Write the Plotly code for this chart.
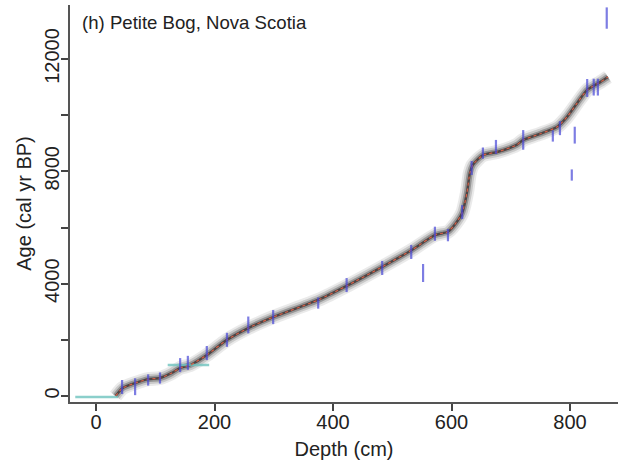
import plotly.graph_objects as go

# Age-depth model (mean) for Petite Bog
model_depth = [33, 45, 66, 88, 108, 128, 142, 159, 187, 221, 257, 299, 375, 423, 483,
               533, 572, 594, 606, 618, 626, 631, 636, 653, 677, 710, 721, 750, 778,
               795, 812, 829, 851, 864]
model_age = [0, 285, 460, 600, 640, 820, 1000, 1100, 1460, 2000, 2420, 2810, 3420, 3920,
             4600, 5200, 5730, 5850, 6120, 6520, 7230, 7940, 8230, 8580, 8690, 8940, 9120,
             9340, 9580, 9940, 10430, 10900, 11180, 11360]

# Calibrated radiocarbon dates (centre and half-range)
date_depth = [44, 66, 88, 108, 142, 155, 187, 221, 257, 299, 375, 423, 483, 532, 552,
              572, 594, 618, 634, 653, 675, 721, 771, 783, 803, 808, 829, 840, 847, 862]
date_age = [320, 330, 570, 640, 1100, 1180, 1530, 2000, 2530, 2810, 3310, 3950, 4560,
            5130, 4380, 5780, 5730, 6550, 8120, 8650, 8870, 9120, 9260, 9540, 7870, 9290,
            10970, 11000, 11000, 13460]
date_err = [250, 300, 200, 200, 250, 250, 250, 250, 300, 250, 200, 250, 250, 250, 320,
            250, 220, 250, 250, 200, 250, 350, 200, 250, 200, 300, 320, 300, 300, 380]

# Other age markers (surface and a horizon marker)
marker_depth = [[-35, 37], [121, 191]]
marker_age = [-40, 1100]

x_ticks = [0, 200, 400, 600, 800]
y_ticks = [0, 2000, 4000, 6000, 8000, 10000, 12000]
y_labels = ["0", "", "4000", "", "8000", "", "12000"]

fig = go.Figure()

# uncertainty envelope drawn as soft layered strokes
for w, c in [(14, "rgba(170,170,170,0.25)"), (10, "rgba(140,140,140,0.35)"),
             (6, "rgba(100,100,100,0.5)"), (2.5, "rgba(60,50,50,0.8)")]:
    fig.add_trace(go.Scatter(x=model_depth, y=model_age, mode="lines",
                             line=dict(color=c, width=w, shape="spline", smoothing=0.6),
                             hoverinfo="skip", showlegend=False))

for dd, aa in zip(marker_depth, marker_age):
    fig.add_trace(go.Scatter(x=dd, y=[aa, aa], mode="lines",
                             line=dict(color="rgba(110,195,190,0.8)", width=2.5),
                             showlegend=False))

fig.add_trace(go.Scatter(x=model_depth, y=model_age, mode="lines",
                         line=dict(color="rgb(215,95,70)", width=1.2, shape="spline",
                                   smoothing=0.6, dash="dot"),
                         showlegend=False))

fig.add_trace(go.Scatter(x=date_depth, y=date_age, mode="markers",
                         marker=dict(size=1, color="rgba(0,0,0,0)"),
                         error_y=dict(type="data", array=date_err, visible=True,
                                      width=0, thickness=2.2,
                                      color="rgba(70,70,215,0.7)"),
                         showlegend=False))

font = "Liberation Sans, Arial, Helvetica, sans-serif"

fig.add_annotation(text="(h) Petite Bog, Nova Scotia", xref="paper", yref="paper",
                   x=0.0, y=1.0, xshift=10, yshift=-5, xanchor="left", yanchor="top",
                   showarrow=False, font=dict(family=font, size=18.6, color="#222"))

fig.update_xaxes(range=[-43.9, 881], tickvals=x_ticks, ticks="outside", ticklen=7,
                 tickwidth=1.5, tickcolor="#444", showline=True, linecolor="#555",
                 linewidth=2, showgrid=False, zeroline=False, ticklabelstandoff=-6,
                 tickfont=dict(family=font, size=20, color="#222"),
                 title=dict(text="Depth (cm)", font=dict(family=font, size=20, color="#222"),
                            standoff=10))
fig.update_yaxes(range=[-214, 13925], tickvals=y_ticks, ticktext=y_labels,
                 ticks="outside", ticklen=7, tickwidth=1.5, tickcolor="#444",
                 tickangle=-90, showline=True, linecolor="#555", linewidth=2,
                 showgrid=False, zeroline=False, ticklabelstandoff=-6,
                 tickfont=dict(family=font, size=20, color="#222"),
                 title=dict(text="Age (cal yr BP)", font=dict(family=font, size=20, color="#222"),
                            standoff=4))

fig.update_layout(width=618, height=465, plot_bgcolor="white", paper_bgcolor="white",
                  margin=dict(l=70, r=0, t=5, b=63), showlegend=False)

fig.write_html("out.html")
